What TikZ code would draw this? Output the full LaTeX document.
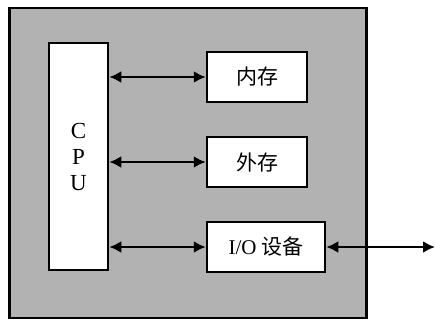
\documentclass[tikz,border=0pt]{standalone}
\usepackage{fontspec}
\setmainfont{Liberation Serif}
\newfontfamily\cjk{Noto Sans CJK SC}
\usetikzlibrary{positioning,arrows.meta}

\begin{document}
\begin{tikzpicture}[
  x=1pt, y=-1pt,
  frame/.style={draw, line width=2.5pt, fill=black!30, minimum width=357pt, minimum height=310pt},
  blk/.style={draw, line width=2.5pt, fill=white, align=center, font=\fontsize{21}{24}\selectfont\cjk,
              minimum height=50pt, inner sep=2pt},
  arr/.style={{Latex[length=12pt,width=12pt]}-{Latex[length=12pt,width=12pt]}, line width=2.5pt}
]
\useasboundingbox (0,0) rectangle (435,321);
\node[frame] (comp) at (188,163) {};
\node[draw, line width=2.5pt, fill=white, minimum width=59pt, minimum height=227pt, align=center,
      font=\fontsize{23}{26}\selectfont] (cpu) at (78.5,156.5) {C\\P\\U};
\node[blk, minimum width=100pt] (mem) at (257,77) {内存};
\node[blk, minimum width=100pt] (ext) at (257,162) {外存};
\node[blk, minimum width=118pt] (io) at (266,247) {{\rmfamily I/O} 设备};
\coordinate (out) at (435,247);
\draw[arr] (cpu.east |- mem) -- (mem.west);
\draw[arr] (cpu.east |- ext) -- (ext.west);
\draw[arr] (cpu.east |- io) -- (io.west);
\draw[arr] (io.east) -- (out);
\end{tikzpicture}
\end{document}
